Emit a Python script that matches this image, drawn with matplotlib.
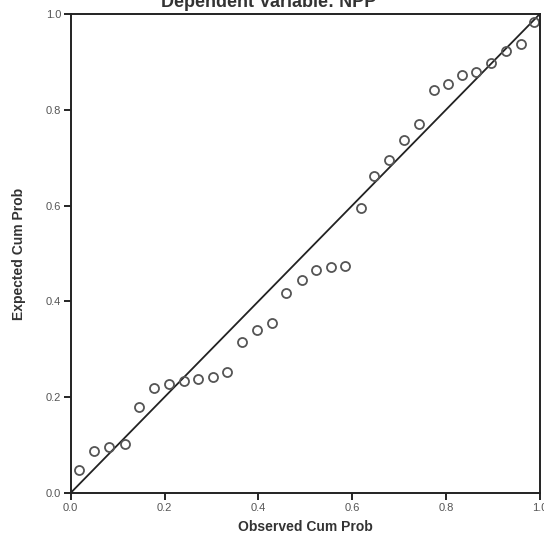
import numpy
import matplotlib
matplotlib.use('Agg')
import matplotlib.pyplot as plt

# observed vs expected cumulative probability
obs_cum_prob = [0.018, 0.050, 0.081, 0.115, 0.145, 0.178, 0.209, 0.241,
                0.272, 0.303, 0.333, 0.365, 0.398, 0.429, 0.460, 0.493,
                0.522, 0.554, 0.584, 0.618, 0.646, 0.679, 0.711, 0.742,
                0.775, 0.804, 0.835, 0.865, 0.897, 0.929, 0.960, 0.989]
exp_cum_prob = [0.047, 0.088, 0.096, 0.103, 0.179, 0.219, 0.227, 0.233,
                0.238, 0.241, 0.253, 0.316, 0.341, 0.355, 0.417, 0.444,
                0.465, 0.471, 0.473, 0.596, 0.662, 0.696, 0.737, 0.770,
                0.841, 0.855, 0.872, 0.880, 0.897, 0.922, 0.938, 0.984]
tick_vals = [0.0, 0.2, 0.4, 0.6, 0.8, 1.0]
tick_labels = ['0.0', '0.2', '0.4', '0.6', '0.8', '1.0']

plt.rcParams['font.family'] = ['Liberation Sans', 'DejaVu Sans']

fig = plt.figure(figsize=(5.44, 5.44), dpi=100)
axs = fig.add_axes([0.13, 0.094, 0.862, 0.880])

axs.plot([0, 1], [0, 1], '-', color='#222222', linewidth=1.3)
axs.plot(obs_cum_prob, exp_cum_prob, 'o', markerfacecolor='none',
         markeredgecolor='#555555', markeredgewidth=1.3, markersize=6.5)

axs.set_xlim(0, 1)
axs.set_ylim(0, 1)
axs.set_xticks(tick_vals, tick_labels)
axs.set_yticks(tick_vals, tick_labels)
axs.tick_params(axis='both', direction='out', length=5, width=1.2,
                labelsize=8, labelcolor='#555555', pad=2)
for sp in axs.spines.values():
    sp.set_linewidth(1.4)
    sp.set_color('#222222')

axs.set_xlabel('Observed Cum Prob', fontsize=10, fontweight='bold',
               color='#333333', labelpad=5)
axs.set_ylabel('Expected Cum Prob', fontsize=10, fontweight='bold',
               color='#333333', labelpad=14)

# title is cut off at the top of the scan, only its lower half shows
fig.text(0.493, 0.988, 'Dependent Variable: NPP', ha='center', va='baseline',
         fontsize=13, fontweight='bold', color='#333333')

fig.savefig('out.png', dpi=100)
